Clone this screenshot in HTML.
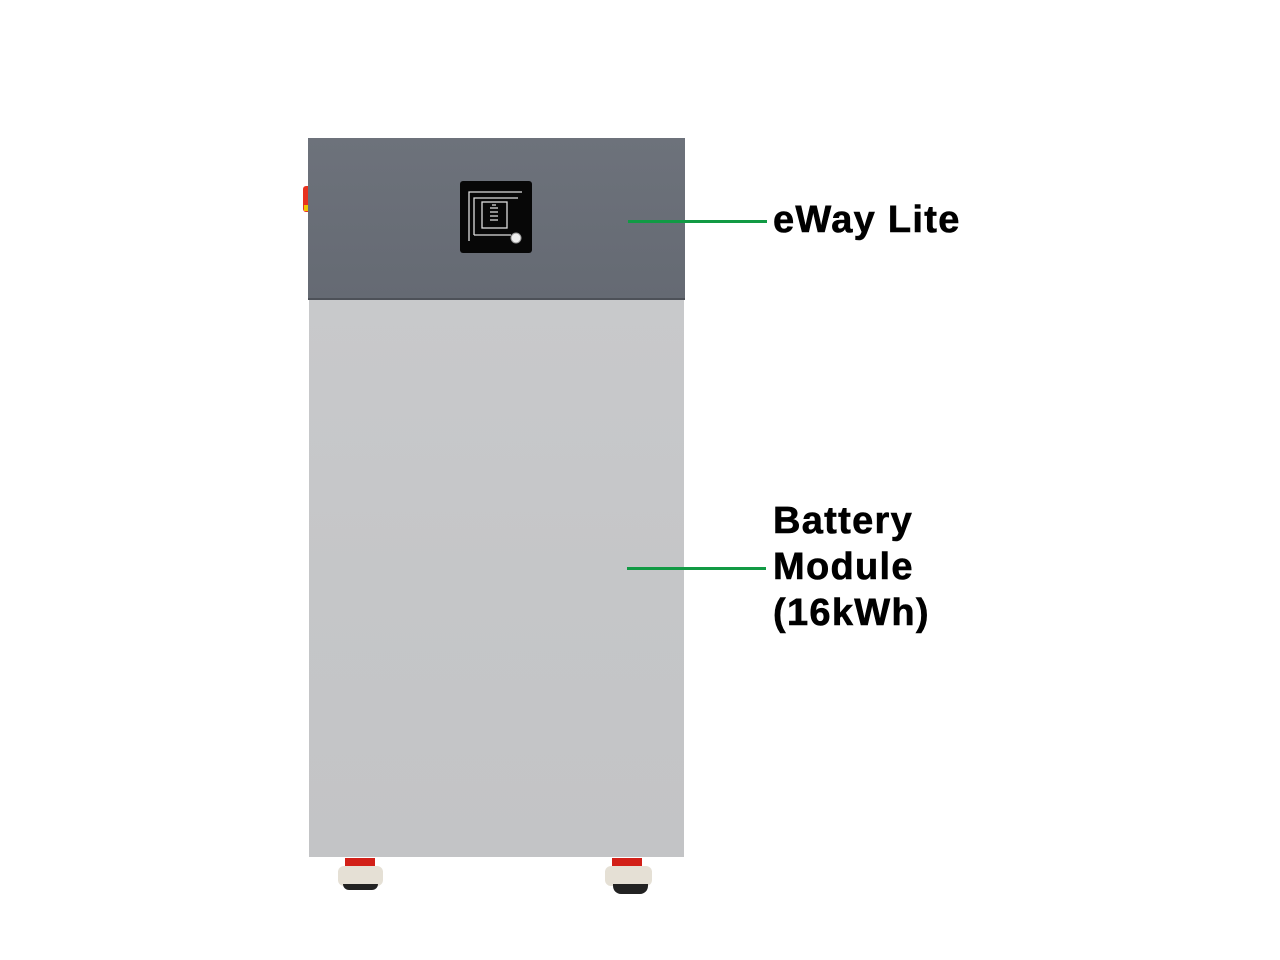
<!DOCTYPE html>
<html><head><style>
html,body{margin:0;padding:0;background:#fff;width:1280px;height:960px;overflow:hidden;position:relative;font-family:"Liberation Sans",sans-serif}
.a{position:absolute}
.t{font-weight:bold;color:#000;font-size:38px;line-height:46px;letter-spacing:1.3px;-webkit-text-stroke:0.6px #000}
</style></head><body>
<div class="a" style="left:303px;top:186px;width:6px;height:26px;background:#e8321e;border-radius:3px 0 0 3px"></div>
<div class="a" style="left:304px;top:205px;width:4px;height:6px;background:#f2c400"></div>
<div class="a" style="left:308px;top:138px;width:377px;height:160px;background:linear-gradient(180deg,#6d727b,#656a73);border-bottom:2px solid #4d5158"></div>
<div class="a" style="left:460px;top:181px;width:72px;height:72px;background:#070707;border-radius:3px">
<svg width="72" height="72" viewBox="0 0 72 72">
<g stroke="#ddd" stroke-width="1.3" fill="none">
<path d="M9 60 V11 H62"/>
<path d="M14 54 V17 H58"/>
<path d="M14 54 H51"/>
<rect x="22" y="21" width="25" height="26"/>
<path d="M30 27h8M30 31h8M30 35h8M30 39h8M32 24h4"/>
</g>
<circle cx="56" cy="57" r="5" fill="#eee" stroke="#999" stroke-width="1"/>
</svg></div>
<div class="a" style="left:309px;top:300px;width:375px;height:557px;background:linear-gradient(180deg,#c8c9cb,#c5c6c8 50%,#c3c4c6)"></div>
<div class="a" style="left:345px;top:858px;width:30px;height:12px;background:#d22018"></div>
<div class="a" style="left:338px;top:866px;width:45px;height:20px;background:#e5e0d5;border-radius:6px"></div>
<div class="a" style="left:343px;top:884px;width:35px;height:6px;background:#222;border-radius:0 0 8px 8px"></div>
<div class="a" style="left:612px;top:858px;width:30px;height:12px;background:#d22018"></div>
<div class="a" style="left:605px;top:866px;width:47px;height:20px;background:#e5e0d5;border-radius:6px"></div>
<div class="a" style="left:613px;top:884px;width:35px;height:10px;background:#222;border-radius:0 0 8px 8px"></div>
<div class="a" style="left:628px;top:220px;width:139px;height:3px;background:#119a44"></div>
<div class="a" style="left:627px;top:567px;width:139px;height:3px;background:#119a44"></div>
<div class="a t" style="left:773px;top:197px">eWay Lite</div>
<div class="a t" style="left:773px;top:498px">Battery<br>Module<br>(16kWh)</div>
</body></html>
